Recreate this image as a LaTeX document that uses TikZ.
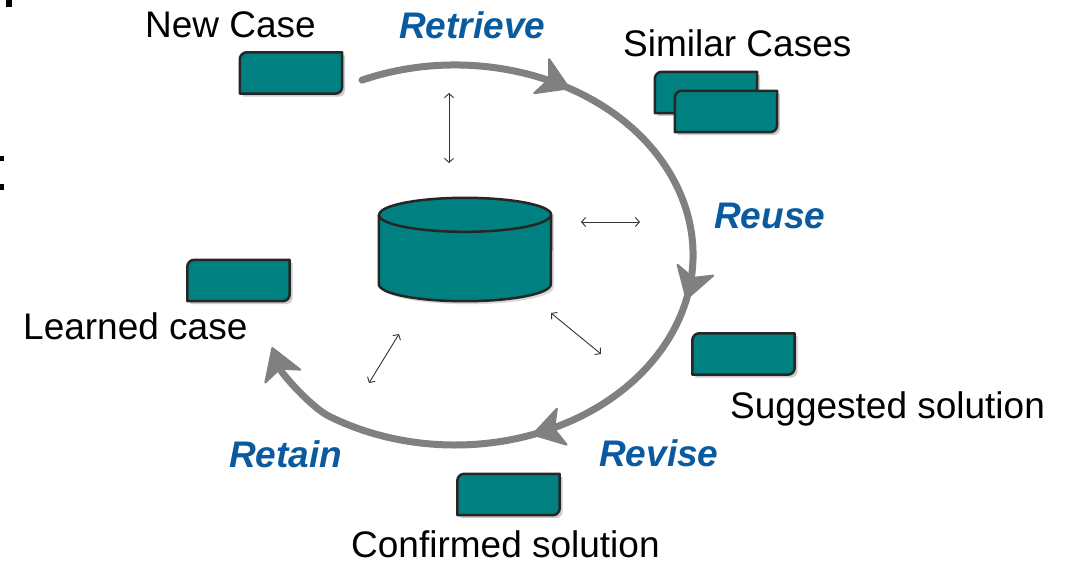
\documentclass[tikz,border=0pt]{standalone}
\usepackage{fontspec}
\setmainfont{Liberation Sans}
\usetikzlibrary{arrows.meta,decorations.markings,calc}
\definecolor{tealfill}{RGB}{0,128,128}
\definecolor{edgegray}{RGB}{38,38,38}
\definecolor{arcgray}{RGB}{128,128,128}
\definecolor{stepblue}{RGB}{10,90,160}
\newcommand\mycasebox[1]{%
  \fill[black,opacity=0.2] ([shift={(3pt,-3pt)}]#1.south west) -- ([shift={(3pt,-10pt)}]#1.north west) arc[start angle=180,end angle=90,radius=7pt] -- ([shift={(3pt,-3pt)}]#1.north east) -- ([shift={(3pt,4pt)}]#1.south east) arc[start angle=0,end angle=-90,radius=7pt] -- cycle;
  \draw[boxline] (#1.south west) -- ([yshift=-7pt]#1.north west) arc[start angle=180,end angle=90,radius=7pt] -- (#1.north east) -- ([yshift=7pt]#1.south east) arc[start angle=0,end angle=-90,radius=7pt] -- cycle;
}
\tikzset{
  casenode/.style={inner sep=0pt, minimum width=102pt, minimum height=41pt},
  boxline/.style={fill=tealfill, draw=edgegray, line width=2.5pt, line join=round},
  lbl/.style={inner sep=0pt, anchor=base west, font=\fontsize{37}{40}\selectfont},
  stage/.style={inner sep=0pt, anchor=base west, font=\fontsize{37}{40}\selectfont\bfseries\itshape, text=stepblue},
  dbl/.style={draw=black!80, line width=0.9pt, {Straight Barb[length=4pt,width=9pt]}-{Straight Barb[length=4pt,width=9pt]}},
  cyclearrow/.style={draw=arcgray, line width=7pt, line cap=round,
    -{Stealth[length=34pt 0 0,width=42pt 0 0,inset=9pt 0 0,line width=2pt,round]},
    postaction={decorate},
    decoration={markings,
      mark=at position 0.215 with {\arrow{Stealth[length=34pt 0 0,width=42pt 0 0,inset=9pt 0 0,line width=2pt,round]}},
      mark=at position 0.482 with {\arrow{Stealth[length=34pt 0 0,width=42pt 0 0,inset=9pt 0 0,line width=2pt,round]}},
      mark=at position 0.698 with {\arrow{Stealth[length=34pt 0 0,width=42pt 0 0,inset=9pt 0 0,line width=2pt,round]}}}}
}
\begin{document}
\begin{tikzpicture}[x=1pt,y=-1pt]
\useasboundingbox (0,0) rectangle (1068,563);
\fill[white] (0,0) rectangle (1068,563);
% slide remnants at the left edge
\fill[black] (6,0) rectangle (12,7);
\fill[black] (0,156) rectangle (4,161);
\fill[black] (0,184) rectangle (4,190);
% cycle arc
\draw[cyclearrow] (455,255) ++(113:238pt and 190pt) arc[start angle=113,end angle=-122,x radius=238pt,y radius=190pt] .. controls (311,407) and (282,374) .. (272,347);
% database cylinder
\node[inner sep=0pt, minimum width=172pt, minimum height=103pt] (db) at (465,249.5) {};
\fill[black,opacity=0.15] ([shift={(3pt,-17pt)}]db.north west) -- ([shift={(3pt,14pt)}]db.south west) arc[start angle=180,end angle=360,x radius=86pt,y radius=17pt] -- ([shift={(3pt,-17pt)}]db.north east) -- cycle;
\draw[boxline] ([yshift=-17pt]db.north west) -- ([yshift=17pt]db.south west) arc[start angle=180,end angle=360,x radius=86pt,y radius=17pt] -- ([yshift=-17pt]db.north east) arc[start angle=0,end angle=180,x radius=86pt,y radius=17pt] -- cycle;
\draw[draw=edgegray, line width=2.5pt] ([yshift=-17pt]db.north west) arc[start angle=180,end angle=360,x radius=86pt,y radius=17pt];
% case boxes
\node[casenode] (nc) at (291,73) {};
\node[casenode] (sc1) at (706,92.5) {};
\node[casenode] (sc2) at (726,111.5) {};
\node[casenode] (lc) at (238.5,280.5) {};
\node[casenode] (ss) at (743.5,354) {};
\node[casenode] (cs) at (508.5,494.5) {};
\mycasebox{nc}
\mycasebox{sc1}
\mycasebox{sc2}
\mycasebox{lc}
\mycasebox{ss}
\mycasebox{cs}
% double arrows
\coordinate (v1) at (449,93); \coordinate (v2) at (449,163);
\coordinate (h1) at (581,222); \coordinate (h2) at (640,222);
\coordinate (d1) at (551,313); \coordinate (d2) at (601,354);
\coordinate (e1) at (399,334); \coordinate (e2) at (369,383);
\draw[dbl] (v1) -- (v2);
\draw[dbl] (h1) -- (h2);
\draw[dbl] (d1) -- (d2);
\draw[dbl] (e1) -- (e2);
% labels
\node[lbl] (tnc) at (145,37) {New Case};
\node[stage] (tret) at (399,38) {Retrieve};
\node[lbl] (tsc) at (623,56) {Similar Cases};
\node[stage] (treu) at (714,228) {Reuse};
\node[lbl] (tlc) at (23,339) {Learned case};
\node[lbl] (tss) at (730,418) {Suggested solution};
\node[stage] (trev) at (599,466) {Revise};
\node[stage] (trtn) at (229,467) {Retain};
\node[lbl] (tcs) at (351,557) {Confirmed solution};
\end{tikzpicture}
\end{document}
